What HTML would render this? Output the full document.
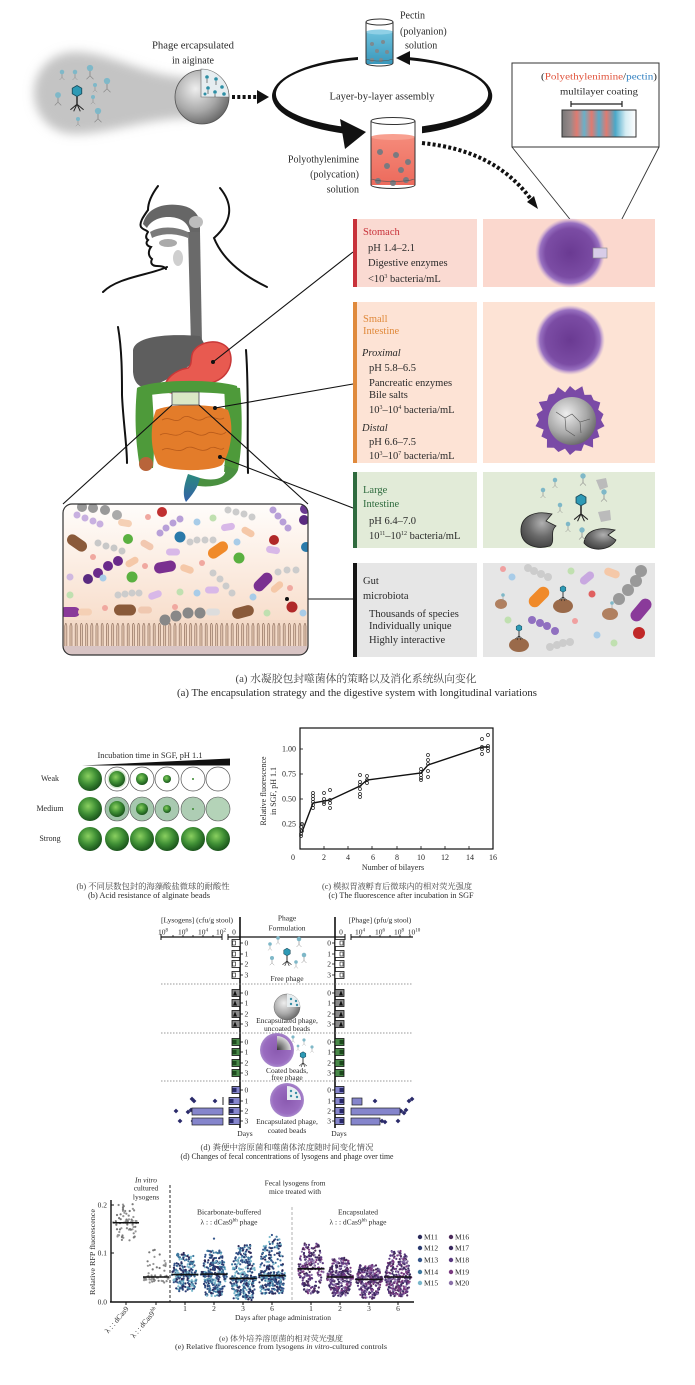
<!DOCTYPE html>
<html><head><meta charset="utf-8">
<style>
html,body{margin:0;padding:0;background:#fff;}
svg{display:block;}
text{font-family:"Liberation Serif","Noto Serif CJK SC",serif;fill:#2a2a2a;}
.cn{font-family:"Liberation Serif","Noto Serif CJK SC","Noto Sans CJK SC",serif;fill:#444;}
</style></head><body>
<svg width="695" height="1385" viewBox="0 0 695 1385" xmlns="http://www.w3.org/2000/svg">
<defs>
<radialGradient id="gG" cx="0.42" cy="0.38" r="0.62"><stop offset="0" stop-color="#8ad060"/><stop offset="0.55" stop-color="#3f8f35"/><stop offset="1" stop-color="#1b551c"/></radialGradient>
<radialGradient id="gP" cx="0.5" cy="0.5" r="0.5"><stop offset="0" stop-color="#6a3a92"/><stop offset="0.7" stop-color="#7b4ca4"/><stop offset="0.86" stop-color="#9870c0"/><stop offset="1" stop-color="#c0a0d8" stop-opacity="0"/></radialGradient>
<radialGradient id="gP2" cx="0.5" cy="0.5" r="0.5"><stop offset="0" stop-color="#8a5ab0"/><stop offset="0.8" stop-color="#9a6cc0"/><stop offset="1" stop-color="#a888cc"/></radialGradient>
<radialGradient id="gB" cx="0.38" cy="0.35" r="0.7"><stop offset="0" stop-color="#eeeeee"/><stop offset="0.6" stop-color="#a8a8a8"/><stop offset="1" stop-color="#666"/></radialGradient>
<radialGradient id="gSh" cx="0.6" cy="0.3" r="0.8"><stop offset="0" stop-color="#b0b0b0"/><stop offset="0.5" stop-color="#6a6a6a"/><stop offset="1" stop-color="#3a3a3a"/></radialGradient>
<radialGradient id="gDk" cx="0" cy="1" r="1"><stop offset="0" stop-color="#333"/><stop offset="1" stop-color="#ddd"/></radialGradient>
<linearGradient id="gML" x1="0" x2="1"><stop offset="0" stop-color="#777"/><stop offset="0.12" stop-color="#9a8a8a"/><stop offset="0.2" stop-color="#e07a70"/><stop offset="0.3" stop-color="#6ab0c8"/><stop offset="0.4" stop-color="#e07a70"/><stop offset="0.5" stop-color="#5aaac8"/><stop offset="0.6" stop-color="#e07a70"/><stop offset="0.72" stop-color="#4aa8c8"/><stop offset="0.86" stop-color="#d5ecf3"/><stop offset="1" stop-color="#fff"/></linearGradient>
<linearGradient id="gMB" x1="0" y1="0" x2="0" y2="1"><stop offset="0" stop-color="#fffdfb"/><stop offset="1" stop-color="#f6d5be"/></linearGradient>
<linearGradient id="gRect" x1="0" y1="0" x2="0" y2="1"><stop offset="0" stop-color="#2b8a7e"/><stop offset="1" stop-color="#3460a8"/></linearGradient>
<linearGradient id="gBlue" x1="0" y1="0" x2="0" y2="1"><stop offset="0" stop-color="#6cc0dc"/><stop offset="1" stop-color="#3a98bc"/></linearGradient>
<linearGradient id="gRed" x1="0" y1="0" x2="0" y2="1"><stop offset="0" stop-color="#f58a7a"/><stop offset="1" stop-color="#ec6a5c"/></linearGradient>
<filter id="bl" x="-30%" y="-50%" width="160%" height="200%"><feGaussianBlur stdDeviation="5"/></filter>
<pattern id="vil" x="64" y="620" width="5.2" height="40" patternUnits="userSpaceOnUse"><rect width="5.2" height="40" fill="#f3dac8"/><path d="M0.8,40 L0.8,6 Q1.8,0.5 2.8,6 L2.8,40" fill="#e9ccb6" stroke="#6a4a3a" stroke-width="0.5"/></pattern>
<clipPath id="boxclip"><rect x="63" y="504" width="245" height="151" rx="9"/></clipPath>
<g id="ph"><line x1="0" y1="4" x2="0" y2="12" stroke="#222" stroke-width="1.3"/><path d="M0,12 L-6,17 M0,12 L6,17 M0,12 L-3,18.5 M0,12 L3,18.5" stroke="#222" stroke-width="0.9" fill="none"/><polygon points="0,-5 4.3,-2.5 4.3,2.5 0,5 -4.3,2.5 -4.3,-2.5" fill="#2e9ab5" stroke="#1b4e5e" stroke-width="0.8"/></g>
<g id="phs"><line x1="0" y1="3" x2="0" y2="11" stroke="#8a8a8a" stroke-width="1.3"/><path d="M0,11 L-5,16 M0,11 L5,16" stroke="#8a8a8a" stroke-width="1" fill="none"/><circle r="4.5" fill="#7fb8c8"/></g>
</defs>
<rect width="695" height="1385" fill="#fff"/>

<!-- ===== TOP: encapsulation ===== -->
<path d="M75,52 C112,52 150,80 200,78 L200,118 C150,116 112,134 75,134 C50,134 34,114 34,93 C34,70 52,52 75,52 Z" fill="#c4c4c4" filter="url(#bl)"/>
<use href="#phs" transform="translate(62,72) scale(0.5)"/>
<use href="#phs" transform="translate(75,72) scale(0.5)"/>
<use href="#phs" transform="translate(90,68) scale(0.7)"/>
<use href="#phs" transform="translate(107,81) scale(0.7)"/>
<use href="#phs" transform="translate(95,85) scale(0.45)"/>
<use href="#phs" transform="translate(58,95) scale(0.65)"/>
<use href="#phs" transform="translate(93,97) scale(0.45)"/>
<use href="#phs" transform="translate(98,111) scale(0.7)"/>
<use href="#phs" transform="translate(78,119) scale(0.45)"/>
<use href="#ph" transform="translate(77,91) scale(1.1)"/>
<circle cx="202" cy="97" r="27" fill="url(#gB)" stroke="#555" stroke-width="0.8"/>
<path d="M201,97 L201,69 A28,28 0 0 1 229,97 Z" fill="#e6edf0" stroke="#666" stroke-width="0.6"/>
<g fill="#2e8fa5"><circle cx="207" cy="77" r="1.8"/><circle cx="216" cy="79" r="1.8"/><circle cx="222" cy="87" r="1.8"/><circle cx="208" cy="88" r="1.8"/><circle cx="215" cy="92" r="1.8"/><circle cx="224" cy="94" r="1.8"/><circle cx="205" cy="94" r="1.5"/></g>
<g stroke="#333" stroke-width="0.6"><line x1="207" y1="79" x2="207" y2="83"/><line x1="216" y1="81" x2="216" y2="85"/><line x1="208" y1="90" x2="208" y2="94"/><line x1="215" y1="94" x2="215" y2="97"/></g>
<line x1="232" y1="97" x2="258" y2="97" stroke="#111" stroke-width="4" stroke-dasharray="3 2.3"/>
<polygon points="257,90 269,97 257,104" fill="#111"/>
<text x="193" y="48.5" font-size="10" text-anchor="middle" textLength="82" lengthAdjust="spacingAndGlyphs">Phage ercapsulated</text>
<text x="193" y="63.5" font-size="10" text-anchor="middle">in aiginate</text>

<!-- loop -->
<path d="M358,57 A110,40 0 0 0 345,133.7 L345,126.8 A106,35 0 0 1 358,59.9 Z" fill="#111"/>
<polygon points="340,119 345,149 366,132" fill="#111"/>
<path d="M422,133.3 A110,40 0 0 0 410,57.3 L410,60.2 A106,35 0 0 1 422,126.4 Z" fill="#111"/>
<polygon points="396,58 410,51 410,65" fill="#111"/>
<text x="382" y="99.5" font-size="10" text-anchor="middle" textLength="105" lengthAdjust="spacingAndGlyphs">Layer-by-layer assembly</text>

<!-- pectin beaker -->
<rect x="366" y="32" width="27" height="32" fill="url(#gBlue)"/>
<ellipse cx="379.5" cy="32" rx="13.5" ry="2.5" fill="#8fd0e6"/>
<g fill="#7d8a90"><circle cx="372" cy="44" r="2"/><circle cx="383" cy="42" r="2"/><circle cx="377" cy="51" r="2"/><circle cx="387" cy="52" r="2"/><circle cx="372" cy="60" r="2"/><circle cx="381" cy="60" r="2"/></g>
<path d="M366,22 L366,63 A13.5,3 0 0 0 393,63 L393,22" fill="none" stroke="#333" stroke-width="1"/>
<ellipse cx="379.5" cy="22" rx="13.5" ry="3" fill="none" stroke="#333" stroke-width="1"/>
<path d="M366,58 A13.5,3 0 0 0 393,58" fill="none" stroke="#555" stroke-width="0.6"/>
<text x="400" y="18.5" font-size="10">Pectin</text>
<text x="400" y="34.5" font-size="10">(polyanion)</text>
<text x="405" y="48.5" font-size="10">solution</text>

<!-- PEI beaker -->
<rect x="371" y="137" width="44" height="48" fill="url(#gRed)"/>
<ellipse cx="393" cy="137" rx="22" ry="3" fill="#f8a090"/>
<g fill="#7a7a80"><circle cx="380" cy="152" r="3"/><circle cx="396" cy="155" r="3"/><circle cx="408" cy="162" r="3"/><circle cx="387" cy="166" r="3"/><circle cx="401" cy="170" r="3"/><circle cx="378" cy="181" r="3"/><circle cx="393" cy="183" r="3"/><circle cx="406" cy="180" r="3"/></g>
<path d="M371,121 L371,185 A22,3.5 0 0 0 415,185 L415,121" fill="none" stroke="#333" stroke-width="1"/>
<ellipse cx="393" cy="121" rx="22" ry="3.5" fill="none" stroke="#333" stroke-width="1"/>
<path d="M371,178 A22,3.5 0 0 0 415,178" fill="none" stroke="#555" stroke-width="0.6"/>
<text x="359" y="162.5" font-size="10" text-anchor="end">Polyothylenimine</text>
<text x="359" y="177.5" font-size="10" text-anchor="end">(polycation)</text>
<text x="359" y="192.5" font-size="10" text-anchor="end">solution</text>

<!-- dotted curve to stomach bead -->
<path d="M422,143 C470,148 505,165 530,198" fill="none" stroke="#111" stroke-width="4" stroke-dasharray="3 2.3"/>
<polygon points="538,209 527,202 534,196" fill="#111"/>

<!-- magnified box -->
<rect x="512" y="63" width="147" height="84" fill="#fff" stroke="#333" stroke-width="1"/>
<text x="599" y="79.5" font-size="9.5" text-anchor="middle" textLength="116" lengthAdjust="spacingAndGlyphs">(<tspan fill="#e0533c">Polyethylenimine</tspan>/<tspan fill="#2f7fc0">pectin</tspan>)</text>
<text x="599" y="94.5" font-size="9.5" text-anchor="middle" textLength="78" lengthAdjust="spacingAndGlyphs">multilayer coating</text>
<path d="M571,101 L571,107 M571,104 L622,104 M622,101 L622,107" stroke="#222" stroke-width="1.2" fill="none"/>
<rect x="562" y="110" width="74" height="27" fill="url(#gML)" stroke="#333" stroke-width="1"/>
<line x1="512" y1="147" x2="593" y2="248" stroke="#333" stroke-width="0.9"/>
<line x1="659" y1="147" x2="607" y2="248" stroke="#333" stroke-width="0.9"/>

<!-- ===== human figure ===== -->
<g fill="none" stroke="#111" stroke-width="2" stroke-linecap="round">
<path d="M158,186 C152,194 148,203 148,210 C143,217 139,223 141,227 C143,230 147,230 148,232 C146,235 145,238 148,240 C145,243 147,246 151,247 C148,251 148,256 152,259 C150,263 152,266 157,266 C162,266 165,267 166,269"/>
<path d="M167,267 C150,275 118,277 103,292"/>
<path d="M220,188 C234,205 232,222 214,238 C222,258 240,274 267,287"/>
<path d="M118,327 C122,350 122,375 122,395 C123,420 127,445 127,463"/>
<path d="M246,350 C249,390 247,430 248,473"/>
</g>
<path d="M143,224 C146,210 160,203 178,205 C190,206 198,212 200,222 L200,232 L190,232 C188,222 180,217 168,217 C158,217 150,222 147,228 Z" fill="#666"/>
<path d="M150,232 C160,226 175,226 188,232 L188,238 C176,233 162,233 152,238 Z" fill="#7a7a7a"/>
<ellipse cx="196" cy="222" rx="7" ry="6" fill="#bdbdbd"/>
<ellipse cx="168" cy="243" rx="9" ry="4" fill="#aaa"/>
<ellipse cx="178" cy="258" rx="5" ry="8" fill="#cfcfcf"/>
<path d="M188,232 L200,232 L202,343 L191,345 Z" fill="#6a6a6a"/>
<path d="M133,350 C135,338 160,333 200,336 L205,345 C200,362 178,375 155,385 C142,391 134,385 133,372 Z" fill="#5e5e5e"/>
<path d="M193,352 C200,340 222,338 229,350 C236,366 224,385 200,384 C188,383 176,386 172,393 L164,391 C164,378 176,370 188,368 C193,364 190,358 193,352 Z" fill="#e85a50" stroke="#c83838" stroke-width="1.5"/>
<path d="M137,388 C150,380 210,378 237,386 L238,396 C210,390 150,392 140,398 Z" fill="#4e9a3a"/>
<path d="M137,388 L152,392 C154,420 155,445 153,468 L140,468 C136,445 134,420 137,388 Z" fill="#4e9a3a"/>
<circle cx="146" cy="464" r="7" fill="#b8643a"/>
<path d="M224,386 L240,388 C243,420 242,450 238,470 L224,472 C226,450 226,420 224,386 Z" fill="#4e9a3a"/>
<path d="M224,465 C230,478 215,482 200,478 L186,482 C200,490 230,488 238,470 Z" fill="#4a9040"/>
<path d="M188,474 L200,478 C198,488 192,495 186,502 C182,495 184,485 188,474 Z" fill="url(#gRect)"/>
<path d="M156,410 C170,403 215,404 228,410 C234,425 232,450 222,465 C210,472 170,472 158,464 C150,450 150,425 156,410 Z" fill="#e37c2a"/>
<g fill="none" stroke="#b85a1a" stroke-width="0.8"><path d="M162,420 C170,415 175,425 182,418 C190,412 195,425 205,418 C212,414 218,422 224,418"/><path d="M160,435 C168,430 174,440 184,432 C192,428 198,440 208,433 C214,430 220,438 226,432"/><path d="M162,450 C170,445 176,455 186,448 C194,444 200,455 210,448 C216,445 220,452 224,448"/></g>
<rect x="172" y="392" width="27" height="13" fill="#d6e4c0" fill-opacity="0.9" stroke="#445" stroke-width="0.8"/>
<g stroke="#111" stroke-width="1.1">
<line x1="213" y1="362" x2="353" y2="252"/>
<line x1="215" y1="408" x2="353" y2="384"/>
<line x1="220" y1="457" x2="353" y2="508"/>
<line x1="287" y1="599" x2="353" y2="599"/>
<line x1="172" y1="405" x2="63" y2="504"/>
<line x1="199" y1="405" x2="308" y2="504"/>
</g>
<g fill="#111"><circle cx="213" cy="362" r="2"/><circle cx="215" cy="408" r="2"/><circle cx="220" cy="457" r="2"/></g>

<!-- ===== microbiota box ===== -->
<g clip-path="url(#boxclip)">
<rect x="63" y="504" width="245" height="151" fill="url(#gMB)"/>
<rect x="63" y="620" width="245" height="36" fill="url(#vil)"/>
<rect x="63" y="646" width="245" height="10" fill="#d8c4c4"/>
<g>
<circle cx="82" cy="507" r="5" fill="#999"/><circle cx="93" cy="508" r="5" fill="#999"/><circle cx="105" cy="510" r="5" fill="#999"/><circle cx="117" cy="515" r="5" fill="#aaa"/>
<circle cx="77" cy="515" r="3.5" fill="#c8b0e0"/><circle cx="85" cy="518" r="3.5" fill="#c8b0e0"/><circle cx="93" cy="521" r="3.5" fill="#c8b0e0"/><circle cx="100" cy="524" r="3.5" fill="#c8b0e0"/>
<circle cx="162" cy="512" r="5" fill="#c03030"/><circle cx="148" cy="517" r="3" fill="#f0a8a0"/>
<circle cx="160" cy="533" r="3.5" fill="#b8a0d8"/><circle cx="166" cy="528" r="3.5" fill="#b8a0d8"/><circle cx="173" cy="523" r="3.5" fill="#b8a0d8"/><circle cx="180" cy="519" r="3.5" fill="#b8a0d8"/>
<circle cx="197" cy="522" r="3.5" fill="#a8cce8"/><circle cx="213" cy="518" r="3.5" fill="#c0e0b0"/>
<circle cx="228" cy="510" r="3.5" fill="#ccc"/><circle cx="236" cy="512" r="3.5" fill="#ccc"/><circle cx="244" cy="514" r="3.5" fill="#ccc"/><circle cx="252" cy="517" r="3.5" fill="#ccc"/>
<circle cx="273" cy="510" r="3.5" fill="#b8a0d8"/><circle cx="278" cy="516" r="3.5" fill="#b8a0d8"/><circle cx="283" cy="522" r="3.5" fill="#b8a0d8"/><circle cx="288" cy="528" r="3.5" fill="#b8a0d8"/>
<circle cx="304" cy="520" r="5" fill="#5a2a80"/><circle cx="305" cy="509" r="5" fill="#6a3a90"/><circle cx="306" cy="547" r="5" fill="#2a7aaa"/>
<circle cx="128" cy="539" r="5" fill="#5ab040"/>
<circle cx="98" cy="543" r="3.5" fill="#c8c8c8"/><circle cx="106" cy="546" r="3.5" fill="#c8c8c8"/><circle cx="114" cy="548" r="3.5" fill="#c8c8c8"/><circle cx="122" cy="551" r="3.5" fill="#c8c8c8"/>
<circle cx="180" cy="537" r="5.5" fill="#2a7aaa"/>
<circle cx="190" cy="542" r="3.5" fill="#ccc"/><circle cx="197" cy="540" r="3.5" fill="#ccc"/><circle cx="205" cy="540" r="3.5" fill="#ccc"/><circle cx="213" cy="540" r="3.5" fill="#ccc"/>
<circle cx="274" cy="540" r="5" fill="#b02828"/><circle cx="237" cy="542" r="3.5" fill="#a8cce8"/>
<circle cx="93" cy="557" r="3" fill="#f0a8a0"/>
<circle cx="88" cy="579" r="5" fill="#5a2a80"/><circle cx="98" cy="573" r="5" fill="#6a2a8a"/><circle cx="108" cy="566" r="5" fill="#6a2a8a"/><circle cx="118" cy="561" r="5" fill="#6a2a8a"/>
<circle cx="145" cy="566" r="3" fill="#f0a8a0"/>
<circle cx="132" cy="577" r="5.5" fill="#5ab040"/><circle cx="239" cy="558" r="5.5" fill="#5ab040"/>
<circle cx="202" cy="563" r="3" fill="#f0a8a0"/>
<circle cx="213" cy="573" r="3.5" fill="#ccc"/><circle cx="220" cy="579" r="3.5" fill="#ccc"/><circle cx="226" cy="586" r="3.5" fill="#ccc"/><circle cx="232" cy="593" r="3.5" fill="#ccc"/>
<circle cx="278" cy="572" r="3.5" fill="#ccc"/><circle cx="287" cy="570" r="3.5" fill="#ccc"/><circle cx="296" cy="570" r="3.5" fill="#ccc"/>
<circle cx="70" cy="577" r="3.5" fill="#d0b8e0"/><circle cx="103" cy="578" r="3.5" fill="#a8cce8"/>
<circle cx="118" cy="595" r="3.5" fill="#ccc"/><circle cx="125" cy="594" r="3.5" fill="#ccc"/><circle cx="132" cy="593" r="3.5" fill="#ccc"/><circle cx="139" cy="593" r="3.5" fill="#ccc"/>
<circle cx="180" cy="592" r="3.5" fill="#c0e0b0"/><circle cx="197" cy="593" r="3.5" fill="#a8cce8"/>
<circle cx="105" cy="608" r="3" fill="#f0a8a0"/><circle cx="175" cy="607" r="3" fill="#f0a8a0"/>
<circle cx="267" cy="613" r="3.5" fill="#c0e0b0"/><circle cx="292" cy="607" r="5.5" fill="#b02828"/><circle cx="303" cy="613" r="3.5" fill="#a8cce8"/><circle cx="253" cy="597" r="3.5" fill="#a8cce8"/><circle cx="290" cy="588" r="3" fill="#f0a8a0"/><circle cx="70" cy="595" r="3.5" fill="#c0e0b0"/>
<rect x="-7" y="-3.5" width="14" height="7" rx="3.5" fill="#f5d0b5" transform="translate(125,523) rotate(10)"/>
<rect x="-7" y="-3.5" width="14" height="7" rx="3.5" fill="#d8b8e8" transform="translate(228,527) rotate(-10)"/>
<rect x="-11" y="-5.5" width="22" height="11" rx="5.5" fill="#8a5a3a" transform="translate(77,543) rotate(35)"/>
<rect x="-7" y="-3.5" width="14" height="7" rx="3.5" fill="#f2c8b0" transform="translate(147,545) rotate(30)"/>
<rect x="-11" y="-5.5" width="22" height="11" rx="5.5" fill="#f08a2a" transform="translate(218,550) rotate(-35)"/>
<rect x="-7" y="-3.5" width="14" height="7" rx="3.5" fill="#f5c8a8" transform="translate(248,532) rotate(30)"/>
<rect x="-7" y="-3.5" width="14" height="7" rx="3.5" fill="#d8b8e8" transform="translate(273,550) rotate(10)"/>
<rect x="-7" y="-3.5" width="14" height="7" rx="3.5" fill="#f5c8a8" transform="translate(132,562) rotate(-30)"/>
<rect x="-11" y="-5.5" width="22" height="11" rx="5.5" fill="#7a3090" transform="translate(165,567) rotate(-10)"/>
<rect x="-7" y="-3.5" width="14" height="7" rx="3.5" fill="#d8b8e8" transform="translate(173,552)"/>
<rect x="-7" y="-3.5" width="14" height="7" rx="3.5" fill="#f5c8a8" transform="translate(187,569) rotate(20)"/>
<rect x="-11" y="-5.5" width="22" height="11" rx="5.5" fill="#7a3090" transform="translate(263,582) rotate(-45)"/>
<rect x="-7" y="-3.5" width="14" height="7" rx="3.5" fill="#f5c8a8" transform="translate(277,587) rotate(-40)"/>
<rect x="-7" y="-3.5" width="14" height="7" rx="3.5" fill="#d8b8e8" transform="translate(155,595) rotate(-20)"/>
<rect x="-7" y="-3.5" width="14" height="7" rx="3.5" fill="#d8b8e8" transform="translate(212,590)"/>
<rect x="-10" y="-5" width="20" height="10" rx="5" fill="#8a3a9a" transform="translate(70,612)"/>
<rect x="-7" y="-3.5" width="14" height="7" rx="3.5" fill="#f5d0b5" transform="translate(85,612)"/>
<rect x="-11" y="-5.5" width="22" height="11" rx="5.5" fill="#8a5a3a" transform="translate(125,610)"/>
<rect x="-7" y="-3.5" width="14" height="7" rx="3.5" fill="#f0c8b0" transform="translate(145,610)"/>
<rect x="-7" y="-3.5" width="14" height="7" rx="3.5" fill="#ddd" transform="translate(213,612)"/>
<rect x="-11" y="-5.5" width="22" height="11" rx="5.5" fill="#8a5a3a" transform="translate(243,612) rotate(-15)"/>
<circle cx="165" cy="620" r="5.5" fill="#888"/><circle cx="176" cy="616" r="5.5" fill="#888"/><circle cx="188" cy="613" r="5.5" fill="#888"/><circle cx="200" cy="613" r="5.5" fill="#888"/>
</g>
</g>
<rect x="63" y="504" width="245" height="151" rx="9" fill="none" stroke="#333" stroke-width="1.2"/>
<circle cx="287" cy="599" r="2" fill="#111"/>

<!-- ===== right panels ===== -->
<rect x="353" y="219" width="124" height="68" fill="#fadad2"/>
<rect x="483" y="219" width="172" height="68" fill="#fbd8ce"/>
<rect x="353" y="219" width="4" height="68" fill="#c8323a"/>
<text x="363" y="235" font-size="10.5" style="fill:#c8323a">Stomach</text>
<text x="368" y="251" font-size="10.5">pH 1.4–2.1</text>
<text x="368" y="266" font-size="10.5">Digestive enzymes</text>
<text x="368" y="282" font-size="10.5">&lt;10<tspan font-size="6" dy="-4">3</tspan><tspan dy="4"> bacteria/mL</tspan></text>
<circle cx="570" cy="253" r="35" fill="url(#gP)"/>
<rect x="593" y="248" width="14" height="10" fill="#d8cce8" stroke="#888" stroke-width="0.6"/>

<rect x="353" y="302" width="124" height="161" fill="#fde3d5"/>
<rect x="483" y="302" width="172" height="161" fill="#fde3d5"/>
<rect x="353" y="302" width="4" height="161" fill="#e08a3c"/>
<text x="363" y="322" font-size="10.5" style="fill:#e08a3c">Small</text>
<text x="363" y="334" font-size="10.5" style="fill:#e08a3c">Intestine</text>
<text x="362" y="356" font-size="10.5" font-style="italic">Proximal</text>
<text x="369" y="371" font-size="10.5">pH 5.8–6.5</text>
<text x="369" y="386" font-size="10.5">Pancreatic enzymes</text>
<text x="369" y="398" font-size="10.5">Bile salts</text>
<text x="369" y="413" font-size="10.5">10<tspan font-size="6" dy="-4">3</tspan><tspan dy="4">–10</tspan><tspan font-size="6" dy="-4">4</tspan><tspan dy="4"> bacteria/mL</tspan></text>
<text x="362" y="431" font-size="10.5" font-style="italic">Distal</text>
<text x="369" y="445" font-size="10.5">pH 6.6–7.5</text>
<text x="369" y="459" font-size="10.5">10<tspan font-size="6" dy="-4">3</tspan><tspan dy="4">–10</tspan><tspan font-size="6" dy="-4">7</tspan><tspan dy="4"> bacteria/mL</tspan></text>
<circle cx="570" cy="340" r="35" fill="url(#gP)"/>
<polygon points="601,420 604.5,426.1 597.3,429.9 599.4,437 593,439.3 593.1,447.6 584,444.2 581.3,451 575.4,450.5 570,455 565,448.6 558.4,452 554,447.7 546.9,447.6 547,439.3 541.4,436.5 543.7,429.6 535.5,426.1 539,420 536.5,414.1 542.7,410.1 538.8,402 547,400.7 548.8,394.7 554.5,393.2 558,387.1 565.1,392.4 570,386 575.2,390.5 582.3,386.2 584.5,394.9 591.2,394.7 593.7,400.1 600.3,402.5 598.2,409.7 603.5,414.1" fill="#7a4aa6"/>
<circle cx="572" cy="421" r="24" fill="url(#gB)"/>
<path d="M556,412 L565,418 L572,414 L580,422 L590,419 M565,418 L566,430 L575,436 M580,422 L581,433" fill="none" stroke="#555" stroke-width="0.6"/>

<rect x="353" y="472" width="124" height="76" fill="#e2ebd8"/>
<rect x="483" y="472" width="172" height="76" fill="#e2ebd8"/>
<rect x="353" y="472" width="4" height="76" fill="#2f6b3e"/>
<text x="363" y="493" font-size="10.5" style="fill:#2f6b3e">Large</text>
<text x="363" y="507" font-size="10.5" style="fill:#2f6b3e">Intestine</text>
<text x="369" y="524" font-size="10.5">pH 6.4–7.0</text>
<text x="369" y="539" font-size="10.5">10<tspan font-size="6" dy="-4">11</tspan><tspan dy="4">–10</tspan><tspan font-size="6" dy="-4">12</tspan><tspan dy="4"> bacteria/mL</tspan></text>
<path d="M521,532 C520,516 535,510 552,514 L546,521 L556,526 C549,532 556,541 550,546 C536,550 522,545 521,532 Z" fill="url(#gSh)" stroke="#222" stroke-width="0.8"/>
<path d="M584,543 C585,531 598,526 615,530 L608,535 L616,540 C611,550 592,553 584,543 Z" fill="url(#gSh)" stroke="#222" stroke-width="0.8"/>
<path d="M596,480 L606,478 L608,487 L600,490 Z" fill="#bbb"/>
<path d="M598,512 L610,510 L611,520 L601,522 Z" fill="#bbb"/>
<use href="#phs" transform="translate(543,490) scale(0.5)"/>
<use href="#phs" transform="translate(555,480) scale(0.5)"/>
<use href="#phs" transform="translate(583,476) scale(0.6)"/>
<use href="#phs" transform="translate(604,492) scale(0.6)"/>
<use href="#phs" transform="translate(568,524) scale(0.5)"/>
<use href="#phs" transform="translate(582,530) scale(0.6)"/>
<use href="#phs" transform="translate(560,505) scale(0.5)"/>
<use href="#ph" transform="translate(581,500) scale(1.15)"/>

<rect x="353" y="563" width="124" height="94" fill="#e6e6e6"/>
<rect x="483" y="563" width="172" height="94" fill="#e6e6e6"/>
<rect x="353" y="563" width="4" height="94" fill="#151515"/>
<text x="363" y="584" font-size="10.5">Gut</text>
<text x="363" y="599" font-size="10.5">microbiota</text>
<text x="369" y="617" font-size="10.5">Thousands of species</text>
<text x="369" y="629" font-size="10.5">Individually unique</text>
<text x="369" y="643" font-size="10.5">Highly interactive</text>
<g>
<circle cx="503" cy="569" r="3" fill="#f0a0a0"/><circle cx="512" cy="577" r="3.5" fill="#a8cce8"/>
<circle cx="528" cy="568" r="4" fill="#ccc"/><circle cx="534" cy="571" r="4" fill="#ccc"/><circle cx="541" cy="574" r="4" fill="#ccc"/><circle cx="548" cy="577" r="4" fill="#ccc"/>
<circle cx="571" cy="571" r="3.5" fill="#c0e0b0"/>
<circle cx="641" cy="571" r="6" fill="#999"/><circle cx="636" cy="581" r="6" fill="#999"/><circle cx="628" cy="590" r="6" fill="#999"/><circle cx="619" cy="599" r="6" fill="#999"/>
<circle cx="592" cy="594" r="3.5" fill="#e06060"/><circle cx="508" cy="620" r="3.5" fill="#c0e0b0"/>
<circle cx="532" cy="620" r="4" fill="#9070c0"/><circle cx="540" cy="623" r="4" fill="#9070c0"/><circle cx="547" cy="626" r="4" fill="#9070c0"/><circle cx="555" cy="631" r="4" fill="#9070c0"/>
<circle cx="575" cy="621" r="3" fill="#f0a0a0"/>
<circle cx="550" cy="647" r="4" fill="#ccc"/><circle cx="557" cy="645" r="4" fill="#ccc"/><circle cx="563" cy="643" r="4" fill="#ccc"/><circle cx="570" cy="642" r="4" fill="#ccc"/>
<circle cx="597" cy="635" r="3.5" fill="#a8cce8"/><circle cx="639" cy="633" r="6" fill="#c02828"/><circle cx="614" cy="643" r="3.5" fill="#c0e0b0"/>
<rect x="-8" y="-4" width="16" height="8" rx="4" fill="#c8a8e0" transform="translate(587,578) rotate(-40)"/>
<rect x="-8" y="-4" width="16" height="8" rx="4" fill="#f5c8a8" transform="translate(612,573) rotate(20)"/>
<rect x="-12" y="-6" width="24" height="12" rx="6" fill="#f08a2a" transform="translate(539,597) rotate(-45)"/>
<rect x="-13" y="-6" width="26" height="12" rx="6" fill="#8a3a9a" transform="translate(641,610) rotate(-50)"/>
<ellipse cx="563" cy="606" rx="10" ry="7" fill="#9a6a4a"/>
<ellipse cx="501" cy="604" rx="6" ry="5" fill="#b08060"/>
<ellipse cx="610" cy="614" rx="8" ry="6" fill="#b08060"/>
<ellipse cx="519" cy="645" rx="10" ry="7" fill="#9a6a4a"/>
<use href="#ph" transform="translate(563,589) scale(0.65)"/>
<use href="#ph" transform="translate(519,628) scale(0.65)"/>
<use href="#phs" transform="translate(503,595) scale(0.4)"/>
<use href="#phs" transform="translate(612,603) scale(0.4)"/>
</g>

<text x="356" y="682" font-size="10.5" text-anchor="middle" class="cn" textLength="241" lengthAdjust="spacingAndGlyphs">(a) 水凝胶包封噬菌体的策略以及消化系统纵向变化</text>
<text x="357" y="696" font-size="10.5" text-anchor="middle" textLength="360" lengthAdjust="spacingAndGlyphs">(a) The encapsulation strategy and the digestive system with longitudinal variations</text>

<!-- ===== panel b ===== -->
<text x="150" y="758" font-size="8" text-anchor="middle" textLength="105" lengthAdjust="spacingAndGlyphs">Incubation time in SGF, pH 1.1</text>
<polygon points="82,765.5 230,758.5 230,765.5" fill="#111"/>
<text x="50" y="781" font-size="8" text-anchor="middle">Weak</text>
<text x="50" y="811" font-size="8" text-anchor="middle">Medium</text>
<text x="50" y="841" font-size="8" text-anchor="middle">Strong</text>
<g>
<circle cx="90" cy="779" r="12" fill="url(#gG)"/>
<circle cx="117" cy="779" r="12" fill="#fff" stroke="#555" stroke-width="0.7"/><circle cx="117" cy="779" r="9.5" fill="#d5e6d0"/><circle cx="117" cy="779" r="8" fill="url(#gG)"/>
<circle cx="142" cy="779" r="12" fill="#fff" stroke="#555" stroke-width="0.7"/><circle cx="142" cy="779" r="6" fill="url(#gG)"/>
<circle cx="167" cy="779" r="12" fill="#fff" stroke="#555" stroke-width="0.7"/><circle cx="167" cy="779" r="4" fill="url(#gG)"/>
<circle cx="193" cy="779" r="12" fill="#fff" stroke="#555" stroke-width="0.7"/><circle cx="193" cy="779" r="1" fill="#3a8a30"/>
<circle cx="218" cy="779" r="12" fill="#fff" stroke="#555" stroke-width="0.7"/>
<circle cx="90" cy="809" r="12" fill="url(#gG)"/>
<circle cx="117" cy="809" r="12" fill="#9fc3a8" stroke="#555" stroke-width="0.6"/><circle cx="117" cy="809" r="8" fill="url(#gG)"/>
<circle cx="142" cy="809" r="12" fill="#a6c8ae" stroke="#555" stroke-width="0.6"/><circle cx="142" cy="809" r="6" fill="url(#gG)"/>
<circle cx="167" cy="809" r="12" fill="#a8c9b0" stroke="#555" stroke-width="0.6"/><circle cx="167" cy="809" r="4" fill="url(#gG)"/>
<circle cx="193" cy="809" r="12" fill="#aecdb4" stroke="#555" stroke-width="0.6"/><circle cx="193" cy="809" r="1" fill="#3a8a30"/>
<circle cx="218" cy="809" r="12" fill="#b4d3b8" stroke="#555" stroke-width="0.6"/>
<circle cx="90" cy="839" r="12" fill="url(#gG)"/><circle cx="117" cy="839" r="12" fill="url(#gG)"/><circle cx="142" cy="839" r="12" fill="url(#gG)"/><circle cx="167" cy="839" r="12" fill="url(#gG)"/><circle cx="193" cy="839" r="12" fill="url(#gG)"/><circle cx="218" cy="839" r="12" fill="url(#gG)"/>
</g>
<text x="153" y="889" font-size="8" text-anchor="middle" class="cn" textLength="153" lengthAdjust="spacingAndGlyphs">(b) 不同层数包封的海藻酸盐微球的耐酸性</text>
<text x="149" y="898" font-size="8" text-anchor="middle" textLength="122" lengthAdjust="spacingAndGlyphs">(b) Acid resistance of alginate beads</text>

<!-- ===== panel c ===== -->
<rect x="300" y="728" width="193" height="121" fill="none" stroke="#111" stroke-width="1.2"/>
<g stroke="#111" stroke-width="0.8"><line x1="300" y1="749" x2="303" y2="749"/><line x1="300" y1="774" x2="303" y2="774"/><line x1="300" y1="799" x2="303" y2="799"/><line x1="300" y1="824" x2="303" y2="824"/>
<line x1="324" y1="849" x2="324" y2="846"/><line x1="348" y1="849" x2="348" y2="846"/><line x1="372" y1="849" x2="372" y2="846"/><line x1="397" y1="849" x2="397" y2="846"/><line x1="421" y1="849" x2="421" y2="846"/><line x1="445" y1="849" x2="445" y2="846"/><line x1="469" y1="849" x2="469" y2="846"/></g>
<g font-size="8" text-anchor="end"><text x="296" y="751.5">1.00</text><text x="296" y="776.5">0.75</text><text x="296" y="801.5">0.50</text><text x="296" y="826.5">0.25</text></g>
<g font-size="8" text-anchor="middle"><text x="293" y="860">0</text><text x="324" y="860">2</text><text x="348" y="860">4</text><text x="373" y="860">6</text><text x="397" y="860">8</text><text x="421" y="860">10</text><text x="445" y="860">12</text><text x="470" y="860">14</text><text x="493" y="860">16</text></g>
<text x="393" y="870" font-size="8" text-anchor="middle">Number of bilayers</text>
<text transform="translate(266,791) rotate(-90)" font-size="8" text-anchor="middle">Relative fluorescence</text>
<text transform="translate(276,791) rotate(-90)" font-size="8" text-anchor="middle">in SGF, pH 1.1</text>
<polyline points="302,832 313,803 330,800 360,786 367,780 421,773 428,765 482,747 488,747" fill="none" stroke="#111" stroke-width="1.4"/>
<g fill="none" stroke="#222" stroke-width="0.7">
<circle cx="301" cy="836" r="1.5"/><circle cx="301" cy="834" r="1.5"/><circle cx="302" cy="831" r="1.5"/><circle cx="301" cy="827" r="1.5"/><circle cx="302" cy="824" r="1.5"/>
<circle cx="313" cy="808" r="1.5"/><circle cx="313" cy="805" r="1.5"/><circle cx="313" cy="802" r="1.5"/><circle cx="313" cy="799" r="1.5"/><circle cx="313" cy="796" r="1.5"/><circle cx="313" cy="793" r="1.5"/>
<circle cx="324" cy="804" r="1.5"/><circle cx="324" cy="802" r="1.5"/><circle cx="324" cy="799" r="1.5"/><circle cx="324" cy="793" r="1.5"/>
<circle cx="330" cy="808" r="1.5"/><circle cx="330" cy="803" r="1.5"/><circle cx="330" cy="800" r="1.5"/><circle cx="330" cy="790" r="1.5"/>
<circle cx="360" cy="797" r="1.5"/><circle cx="360" cy="794" r="1.5"/><circle cx="360" cy="789" r="1.5"/><circle cx="360" cy="785" r="1.5"/><circle cx="360" cy="782" r="1.5"/><circle cx="360" cy="775" r="1.5"/>
<circle cx="367" cy="783" r="1.5"/><circle cx="367" cy="780" r="1.5"/><circle cx="367" cy="776" r="1.5"/>
<circle cx="421" cy="780" r="1.5"/><circle cx="421" cy="778" r="1.5"/><circle cx="421" cy="775" r="1.5"/><circle cx="421" cy="772" r="1.5"/><circle cx="421" cy="769" r="1.5"/>
<circle cx="428" cy="777" r="1.5"/><circle cx="428" cy="771" r="1.5"/><circle cx="428" cy="764" r="1.5"/><circle cx="428" cy="760" r="1.5"/><circle cx="428" cy="755" r="1.5"/>
<circle cx="482" cy="754" r="1.5"/><circle cx="482" cy="749" r="1.5"/><circle cx="482" cy="747" r="1.5"/><circle cx="482" cy="739" r="1.5"/>
<circle cx="488" cy="751" r="1.5"/><circle cx="488" cy="748" r="1.5"/><circle cx="488" cy="746" r="1.5"/><circle cx="488" cy="735" r="1.5"/>
</g>
<text x="397" y="889" font-size="8" text-anchor="middle" class="cn" textLength="150" lengthAdjust="spacingAndGlyphs">(c) 模拟胃液孵育后微球内的相对荧光强度</text>
<text x="401" y="898" font-size="8" text-anchor="middle" textLength="145" lengthAdjust="spacingAndGlyphs">(c) The fluorescence after incubation in SGF</text>

<!-- ===== panel d ===== -->
<g font-size="7.5">
<text x="197" y="922.5" text-anchor="middle">[Lysogens] (cfu/g stool)</text>
<text x="287" y="920.5" text-anchor="middle">Phage</text>
<text x="287" y="930.5" text-anchor="middle">Formulation</text>
<text x="380" y="922.5" text-anchor="middle">[Phage] (pfu/g stool)</text>
<text x="163" y="934.5" text-anchor="middle">10<tspan font-size="5" dy="-3">8</tspan></text>
<text x="183" y="934.5" text-anchor="middle">10<tspan font-size="5" dy="-3">6</tspan></text>
<text x="203" y="934.5" text-anchor="middle">10<tspan font-size="5" dy="-3">4</tspan></text>
<text x="221" y="934.5" text-anchor="middle">10<tspan font-size="5" dy="-3">2</tspan></text>
<text x="234" y="934.5" text-anchor="middle">0</text>
<text x="341" y="934.5" text-anchor="middle">0</text>
<text x="360" y="934.5" text-anchor="middle">10<tspan font-size="5" dy="-3">4</tspan></text>
<text x="380" y="934.5" text-anchor="middle">10<tspan font-size="5" dy="-3">6</tspan></text>
<text x="399" y="934.5" text-anchor="middle">10<tspan font-size="5" dy="-3">8</tspan></text>
<text x="414" y="934.5" text-anchor="middle">10<tspan font-size="5" dy="-3">10</tspan></text>
</g>
<g stroke="#111" fill="none">
<line x1="161" y1="937" x2="222" y2="937" stroke-width="1.2"/>
<line x1="228" y1="937" x2="345" y2="937" stroke-width="1.2"/>
<line x1="351" y1="937" x2="413" y2="937" stroke-width="1.2"/>
<path d="M161,934 L161,940 M222,934 L222,940 M228,934 L228,940 M345,934 L345,940 M351,934 L351,940" stroke-width="1"/>
<path d="M173,937 L173,935 M183,937 L183,935 M193,937 L193,935 M203,937 L203,935 M213,937 L213,935 M360,937 L360,935 M370,937 L370,935 M380,937 L380,935 M390,937 L390,935 M400,937 L400,935 M410,937 L410,935" stroke-width="0.8"/>
<line x1="240" y1="917" x2="240" y2="1128" stroke-width="1.6"/>
<line x1="335" y1="917" x2="335" y2="1128" stroke-width="1.6"/>
</g>
<g stroke="#777" stroke-width="0.8" stroke-dasharray="1.5 1.5"><line x1="161" y1="984" x2="413" y2="984"/><line x1="161" y1="1033" x2="413" y2="1033"/><line x1="161" y1="1081" x2="413" y2="1081"/></g>
<g id="rows" font-size="7.5"></g>
<g font-size="7.5" text-anchor="middle">
<text x="287" y="981">Free phage</text>
<text x="287" y="1023">Encapsulated phage,</text>
<text x="287" y="1031">uncoated beads</text>
<text x="287" y="1073">Coated beads,</text>
<text x="287" y="1080">free phage</text>
<text x="287" y="1124">Encapsulated phage,</text>
<text x="287" y="1133">coated beads</text>
<text x="245" y="1136">Days</text>
<text x="339" y="1136">Days</text>
</g>
<use href="#phs" transform="translate(270,944) scale(0.4)"/>
<use href="#phs" transform="translate(278,938) scale(0.4)"/>
<use href="#phs" transform="translate(299,939) scale(0.5)"/>
<use href="#phs" transform="translate(304,955) scale(0.5)"/>
<use href="#phs" transform="translate(272,958) scale(0.45)"/>
<use href="#phs" transform="translate(296,962) scale(0.4)"/>
<use href="#ph" transform="translate(287,952) scale(0.75)"/>
<circle cx="287" cy="1007" r="13" fill="url(#gB)" stroke="#666" stroke-width="0.5"/>
<path d="M287,1007 L287,994 A13,13 0 0 1 300,1007 Z" fill="#e8eef0"/>
<g fill="#3a8fa5"><circle cx="291" cy="999" r="1.2"/><circle cx="296" cy="1001" r="1.2"/><circle cx="291" cy="1004" r="1.2"/><circle cx="297" cy="1005" r="1.2"/></g>
<circle cx="277" cy="1050" r="17" fill="url(#gP2)"/>
<path d="M277,1050 L277,1036 A14,14 0 0 1 291,1050 Z" fill="url(#gDk)"/>
<use href="#phs" transform="translate(293,1037) scale(0.35)"/>
<use href="#phs" transform="translate(304,1040) scale(0.35)"/>
<use href="#phs" transform="translate(312,1047) scale(0.35)"/>
<use href="#phs" transform="translate(298,1046) scale(0.3)"/>
<use href="#ph" transform="translate(303,1055) scale(0.65)"/>
<circle cx="287" cy="1100" r="17" fill="url(#gP2)"/>
<path d="M287,1100 L287,1086 A14,14 0 0 1 301,1100 Z" fill="#e8eef0"/>
<g fill="#3a8fa5"><circle cx="291" cy="1091" r="1.2"/><circle cx="296" cy="1093" r="1.2"/><circle cx="291" cy="1096" r="1.2"/><circle cx="297" cy="1097" r="1.2"/></g>
<g fill="#2a2a6a">
<rect x="-1.7" y="-1.7" width="3.4" height="3.4" transform="translate(192,1099) rotate(45)"/><rect x="-1.7" y="-1.7" width="3.4" height="3.4" transform="translate(194,1101) rotate(45)"/><rect x="-1.7" y="-1.7" width="3.4" height="3.4" transform="translate(215,1101) rotate(45)"/>
<rect x="-1.7" y="-1.7" width="3.4" height="3.4" transform="translate(375,1101) rotate(45)"/><rect x="-1.7" y="-1.7" width="3.4" height="3.4" transform="translate(409,1101) rotate(45)"/><rect x="-1.7" y="-1.7" width="3.4" height="3.4" transform="translate(412,1099) rotate(45)"/>
<rect x="-1.7" y="-1.7" width="3.4" height="3.4" transform="translate(176,1111) rotate(45)"/><rect x="-1.7" y="-1.7" width="3.4" height="3.4" transform="translate(188,1112) rotate(45)"/><rect x="-1.7" y="-1.7" width="3.4" height="3.4" transform="translate(191,1110) rotate(45)"/><rect x="-1.7" y="-1.7" width="3.4" height="3.4" transform="translate(198,1111) rotate(45)"/><rect x="-1.7" y="-1.7" width="3.4" height="3.4" transform="translate(200,1112) rotate(45)"/>
<rect x="-1.7" y="-1.7" width="3.4" height="3.4" transform="translate(382,1111) rotate(45)"/><rect x="-1.7" y="-1.7" width="3.4" height="3.4" transform="translate(401,1111) rotate(45)"/><rect x="-1.7" y="-1.7" width="3.4" height="3.4" transform="translate(404,1113) rotate(45)"/><rect x="-1.7" y="-1.7" width="3.4" height="3.4" transform="translate(406,1110) rotate(45)"/>
<rect x="-1.7" y="-1.7" width="3.4" height="3.4" transform="translate(180,1121) rotate(45)"/><rect x="-1.7" y="-1.7" width="3.4" height="3.4" transform="translate(193,1121) rotate(45)"/><rect x="-1.7" y="-1.7" width="3.4" height="3.4" transform="translate(196,1122) rotate(45)"/><rect x="-1.7" y="-1.7" width="3.4" height="3.4" transform="translate(198,1120) rotate(45)"/>
<rect x="-1.7" y="-1.7" width="3.4" height="3.4" transform="translate(368,1122) rotate(45)"/><rect x="-1.7" y="-1.7" width="3.4" height="3.4" transform="translate(370,1120) rotate(45)"/><rect x="-1.7" y="-1.7" width="3.4" height="3.4" transform="translate(382,1121) rotate(45)"/><rect x="-1.7" y="-1.7" width="3.4" height="3.4" transform="translate(385,1122) rotate(45)"/><rect x="-1.7" y="-1.7" width="3.4" height="3.4" transform="translate(398,1121) rotate(45)"/>
</g>
<g fill="#8585cc" stroke="#222" stroke-width="0.7">
<rect x="352" y="1098" width="10" height="7"/>
<rect x="192" y="1108" width="31" height="7"/><rect x="351" y="1108" width="49" height="7"/>
<rect x="192" y="1118" width="31" height="7"/><rect x="351" y="1118" width="29" height="7"/>
</g>
<line x1="223" y1="1097" x2="223" y2="1105" stroke="#222" stroke-width="1"/>
<text x="287" y="1150" font-size="8" text-anchor="middle" class="cn" textLength="173" lengthAdjust="spacingAndGlyphs">(d) 粪便中溶原菌和噬菌体浓度随时间变化情况</text>
<text x="287" y="1159" font-size="8" text-anchor="middle" textLength="213" lengthAdjust="spacingAndGlyphs">(d) Changes of fecal concentrations of lysogens and phage over time</text>

<!-- ===== panel e ===== -->
<g id="dots"></g>
<g stroke="#111" fill="none">
<line x1="111" y1="1200" x2="111" y2="1302" stroke-width="1.4"/>
<line x1="110" y1="1302" x2="414" y2="1302" stroke-width="1.4"/>
<path d="M111,1205 L114,1205 M111,1253 L114,1253" stroke-width="1"/>
<path d="M126,1302 L126,1305 M156,1302 L156,1305 M185,1302 L185,1305 M214,1302 L214,1305 M243,1302 L243,1305 M272,1302 L272,1305 M311,1302 L311,1305 M340,1302 L340,1305 M369,1302 L369,1305 M398,1302 L398,1305" stroke-width="1"/>
<line x1="170" y1="1185" x2="170" y2="1302" stroke-width="0.9" stroke-dasharray="3 2"/>
<line x1="292" y1="1207" x2="292" y2="1302" stroke="#aaa" stroke-width="0.9" stroke-dasharray="3 2"/>
</g>
<g font-size="7.5">
<text x="107" y="1207.5" text-anchor="end">0.2</text>
<text x="107" y="1255.5" text-anchor="end">0.1</text>
<text x="107" y="1304.5" text-anchor="end">0.0</text>
<text transform="translate(95,1252) rotate(-90)" text-anchor="middle" textLength="86" lengthAdjust="spacingAndGlyphs">Relative RFP fluorescence</text>
<text x="146" y="1182.5" text-anchor="middle" font-style="italic">In vitro</text>
<text x="146" y="1190.5" text-anchor="middle">cultured</text>
<text x="146" y="1199.5" text-anchor="middle">lysogens</text>
<text x="295" y="1185.5" text-anchor="middle">Fecal lysogens from</text>
<text x="295" y="1194" text-anchor="middle">mice treated with</text>
<text x="229" y="1214.5" text-anchor="middle">Bicarbonate-buffered</text>
<text x="229" y="1224.5" text-anchor="middle">λ : : dCas9<tspan font-size="5" dy="-3">bh</tspan><tspan dy="3"> phage</tspan></text>
<text x="358" y="1214.5" text-anchor="middle">Encapsulated</text>
<text x="358" y="1224.5" text-anchor="middle">λ : : dCas9<tspan font-size="5" dy="-3">bh</tspan><tspan dy="3"> phage</tspan></text>
<g text-anchor="middle"><text x="185" y="1311">1</text><text x="214" y="1311">2</text><text x="243" y="1311">3</text><text x="272" y="1311">6</text><text x="311" y="1311">1</text><text x="340" y="1311">2</text><text x="369" y="1311">3</text><text x="398" y="1311">6</text></g>
<text x="283" y="1320" text-anchor="middle">Days after phage administration</text>
<text transform="translate(129,1309) rotate(-50)" text-anchor="end">λ : : dCas9</text>
<text transform="translate(158,1310) rotate(-50)" text-anchor="end">λ : : dCas9<tspan font-size="5" dy="-3">bh</tspan></text>
</g>
<g font-size="7.5">
<circle cx="420" cy="1237" r="2.2" fill="#2a2a5a"/><text x="424" y="1239.5">M11</text>
<circle cx="420" cy="1248" r="2.2" fill="#2a3a70"/><text x="424" y="1250.5">M12</text>
<circle cx="420" cy="1260" r="2.2" fill="#34558a"/><text x="424" y="1262.5">M13</text>
<circle cx="420" cy="1272" r="2.2" fill="#3f7aa0"/><text x="424" y="1274.5">M14</text>
<circle cx="420" cy="1283" r="2.2" fill="#7ab8cc"/><text x="424" y="1285.5">M15</text>
<circle cx="451" cy="1237" r="2.2" fill="#4a2a5a"/><text x="455" y="1239.5">M16</text>
<circle cx="451" cy="1248" r="2.2" fill="#3a2a60"/><text x="455" y="1250.5">M17</text>
<circle cx="451" cy="1260" r="2.2" fill="#5a3a80"/><text x="455" y="1262.5">M18</text>
<circle cx="451" cy="1272" r="2.2" fill="#7a3a80"/><text x="455" y="1274.5">M19</text>
<circle cx="451" cy="1283" r="2.2" fill="#8a70a8"/><text x="455" y="1285.5">M20</text>
</g>
<text x="281" y="1341" font-size="7.5" text-anchor="middle" class="cn" textLength="124" lengthAdjust="spacingAndGlyphs">(e) 体外培养溶原菌的相对荧光强度</text>
<text x="281" y="1349" font-size="7.5" text-anchor="middle" textLength="212" lengthAdjust="spacingAndGlyphs">(e) Relative fluorescence from lysogens <tspan font-style="italic">in vitro</tspan>-cultured controls</text>
</svg>
<script>
(function(){
var NS='http://www.w3.org/2000/svg';
function el(t,a,p){var e=document.createElementNS(NS,t);for(var k in a)e.setAttribute(k,a[k]);p.appendChild(e);return e;}
var R=document.getElementById('rows');
var groups=[[943,954,964,975],[993,1003,1014,1024],[1042,1052,1063,1073],[1090,1101,1111,1121]];
var fills=['#fff','#8a8a8a','#4a8a4a','#8585cc'];
var marks=['#fff','#111','#1d4a1d','#2a2a6a'];
for(var g=0;g<4;g++){for(var d=0;d<4;d++){var y=groups[g][d];
 var lx=(g==3&&d>0)?229:232;
 el('rect',{x:lx,y:y-3.5,width:240-lx,height:7,fill:fills[g],stroke:'#111','stroke-width':0.8},R);
 el('rect',{x:335,y:y-3.5,width:9,height:7,fill:fills[g],stroke:'#111','stroke-width':0.8},R);
 if(g==1){el('polygon',{points:(lx+1)+','+(y+2.5)+' '+(lx+3)+','+(y-2.5)+' '+(lx+5)+','+(y+2.5),fill:'#111'},R);el('polygon',{points:'339,'+(y+2.5)+' 341,'+(y-2.5)+' 343,'+(y+2.5),fill:'#111'},R);}
 else if(g==0){el('rect',{x:lx+0.5,y:y-2,width:3,height:4,fill:'#fff',stroke:'#111','stroke-width':0.6},R);el('rect',{x:340,y:y-2,width:3,height:4,fill:'#fff',stroke:'#111','stroke-width':0.6},R);}
 else {el('rect',{x:lx+0.5,y:y-2,width:4,height:4,fill:marks[g]},R);el('rect',{x:339.5,y:y-2,width:4,height:4,fill:marks[g]},R);}
 el('line',{x1:240,y1:y,x2:243,y2:y,stroke:'#111','stroke-width':0.8},R);
 el('line',{x1:332,y1:y,x2:335,y2:y,stroke:'#111','stroke-width':0.8},R);
 var t=el('text',{x:244.5,y:y+2.6},R);t.textContent=String(d);
 var t2=el('text',{x:331,y:y+2.6,'text-anchor':'end'},R);t2.textContent=String(d);
}}
var G=document.getElementById('dots');
var s=12345;function rnd(){s=(s*16807)%2147483647;return (s-1)/2147483646;}
function Y(v){return 1301-480*v;}
var B=['#2a2a5a','#2a3a70','#34558a','#3f7aa0','#7ab8cc'];
var P=['#4a2a5a','#3a2a60','#5a3a80','#7a3a80','#8a70a8'];
var GR=['#777','#999','#888'];
function cloud(cx,lo,hi,med,n,cols,w,rad){
 for(var i=0;i<n;i++){var v;
  if(rnd()<0.5){v=med-(med-lo)*Math.pow(rnd(),1.2);}else{v=med+(hi-med)*Math.pow(rnd(),1.6);}
  var span=Math.max(hi-med,med-lo);
  var wf=1-0.45*Math.abs(v-med)/span;
  var x=cx+(rnd()*2-1)*w*wf;
  el('circle',{cx:x.toFixed(1),cy:Y(v).toFixed(1),r:rad,fill:cols[Math.floor(rnd()*cols.length)]},G);
 }
 el('line',{x1:cx-w,y1:Y(med),x2:cx+w,y2:Y(med),stroke:'#111','stroke-width':1.6},G);
}
cloud(126,0.125,0.205,0.163,70,GR,13,1.1);
cloud(156,0.038,0.108,0.05,55,GR,13,1.1);
cloud(185,0.02,0.10,0.055,230,B,13.5,1.1);
cloud(214,0.01,0.105,0.056,300,B,13.5,1.1);
cloud(243,0.002,0.117,0.047,300,B,13.5,1.1);
cloud(272,0.015,0.138,0.053,300,B,13.5,1.1);
cloud(311,0.015,0.12,0.067,230,P,13.5,1.1);
cloud(340,0.01,0.09,0.05,300,P,13.5,1.1);
cloud(369,0.005,0.075,0.045,300,P,13.5,1.1);
cloud(398,0.01,0.105,0.05,300,P,13.5,1.1);
el('circle',{cx:214,cy:Y(0.13),r:1.1,fill:'#34558a'},G);
})();
</script>
</body></html>
